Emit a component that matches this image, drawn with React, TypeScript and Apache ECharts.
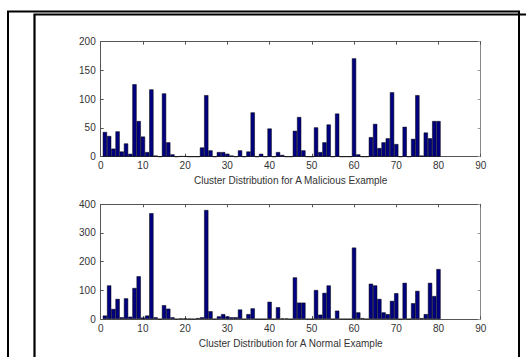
import React, { useEffect, useRef } from "react";
import * as echarts from "echarts";

const clusterIds: number[] = Array.from({ length: 80 }, (_, i) => i + 1);

const maliciousCounts: number[] = [
  43, 36, 14, 44, 9, 23, 5, 126, 62, 35,
  8, 117, 2, 0, 110, 25, 4, 0, 1, 1,
  0, 0, 0, 16, 107, 11, 0, 8, 8, 5,
  2, 0, 11, 0, 9, 77, 0, 5, 0, 49,
  0, 8, 3, 0, 0, 45, 69, 11, 0, 0,
  51, 8, 25, 56, 0, 75, 0, 0, 0, 171,
  4, 0, 0, 34, 57, 15, 25, 32, 112, 22,
  0, 52, 0, 31, 107, 2, 42, 32, 62, 62,
];

const normalCounts: number[] = [
  12, 117, 35, 70, 6, 72, 8, 108, 149, 5,
  12, 369, 6, 0, 48, 36, 6, 0, 2, 2,
  1, 0, 3, 6, 380, 27, 0, 9, 17, 9,
  6, 6, 33, 0, 17, 37, 0, 0, 0, 60,
  0, 41, 2, 2, 0, 145, 57, 57, 0, 0,
  101, 15, 91, 117, 0, 29, 0, 0, 0, 249,
  23, 3, 0, 123, 117, 70, 23, 17, 63, 90,
  0, 126, 0, 55, 98, 3, 17, 126, 80, 174,
];

const xTicks = { min: 0, max: 90, interval: 10 };
const topY = { min: 0, max: 200, interval: 50 };
const bottomY = { min: 0, max: 400, interval: 100 };
const titles = [
  "Cluster Distribution for A Malicious Example",
  "Cluster Distribution for A Normal Example",
];

const W = 526;
const H = 357;
const GRID_LEFT = 100.7;
const GRID_WIDTH = 380;
const FONT = 'Arial, "Liberation Sans", sans-serif';
const TEXT_COLOR = "#333";
const AXIS_COLOR = "#555";

export default function App() {
  const ref = useRef<HTMLDivElement>(null);

  useEffect(() => {
    if (!ref.current) return;
    const chart = echarts.init(ref.current, undefined, { renderer: "svg", width: W, height: H });

    const grids = [
      { left: GRID_LEFT, top: 41.7, width: GRID_WIDTH, height: 115 },
      { left: GRID_LEFT, top: 204.3, width: GRID_WIDTH, height: 114.7 },
    ];

    const barW = GRID_WIDTH / (xTicks.max - xTicks.min);

    const xAxes: any[] = [];
    const yAxes: any[] = [];
    [0, 1].forEach((g) => {
      xAxes.push({
        type: "value",
        gridIndex: g,
        position: "bottom",
        min: xTicks.min,
        max: xTicks.max,
        interval: xTicks.interval,
        name: titles[g],
        nameLocation: "middle",
        nameGap: 19,
        nameTextStyle: { fontFamily: FONT, fontSize: 10, color: TEXT_COLOR },
        axisLine: { show: true, onZero: false, lineStyle: { color: AXIS_COLOR, width: 1 } },
        axisTick: { show: true, inside: true, length: 3, lineStyle: { color: AXIS_COLOR } },
        axisLabel: { fontFamily: FONT, fontSize: 10, color: TEXT_COLOR, margin: 4 },
        splitLine: { show: false },
      });
      xAxes.push({
        type: "value",
        gridIndex: g,
        position: "top",
        min: xTicks.min,
        max: xTicks.max,
        interval: xTicks.interval,
        axisLine: { show: true, onZero: false, lineStyle: { color: AXIS_COLOR, width: 1 } },
        axisTick: { show: true, inside: true, length: 3, lineStyle: { color: AXIS_COLOR } },
        axisLabel: { show: false },
        splitLine: { show: false },
      });
      const yr = g === 0 ? topY : bottomY;
      yAxes.push({
        type: "value",
        gridIndex: g,
        position: "left",
        min: yr.min,
        max: yr.max,
        interval: yr.interval,
        axisLine: { show: true, onZero: false, lineStyle: { color: AXIS_COLOR, width: 1 } },
        axisTick: { show: true, inside: true, length: 3, lineStyle: { color: AXIS_COLOR } },
        axisLabel: { fontFamily: FONT, fontSize: 10, color: TEXT_COLOR, margin: 5 },
        splitLine: { show: false },
      });
      yAxes.push({
        type: "value",
        gridIndex: g,
        position: "right",
        min: yr.min,
        max: yr.max,
        interval: yr.interval,
        axisLine: { show: true, onZero: false, lineStyle: { color: "#888", width: 1 } },
        axisTick: { show: true, inside: true, length: 3, lineStyle: { color: "#999" } },
        axisLabel: { show: false },
        splitLine: { show: false },
      });
    });

    const barStyle = { color: "#000080", borderColor: "#000", borderWidth: 0.5 };

    chart.setOption({
      animation: false,
      backgroundColor: "#fff",
      grid: grids,
      xAxis: xAxes,
      yAxis: yAxes,
      series: [
        {
          type: "bar",
          xAxisIndex: 0,
          yAxisIndex: 0,
          data: clusterIds.map((c, i) => [c, maliciousCounts[i]]),
          barWidth: barW,
          itemStyle: barStyle,
        },
        {
          type: "bar",
          xAxisIndex: 2,
          yAxisIndex: 2,
          data: clusterIds.map((c, i) => [c, normalCounts[i]]),
          barWidth: barW,
          itemStyle: barStyle,
        },
      ],
      graphic: [
        {
          type: "rect",
          shape: { x: 8, y: 11.5, width: 511, height: 400 },
          style: { fill: "none", stroke: "#000", lineWidth: 2 },
          silent: true,
        },
        {
          type: "rect",
          shape: { x: 34.5, y: 14.5, width: 520, height: 400 },
          style: { fill: "none", stroke: "#000", lineWidth: 2.2 },
          silent: true,
        },
      ],
    });

    return () => chart.dispose();
  }, []);

  return (
    <div
      ref={ref}
      style={{ position: "absolute", left: 0, top: 0, width: W, height: H, background: "#fff" }}
    />
  );
}
